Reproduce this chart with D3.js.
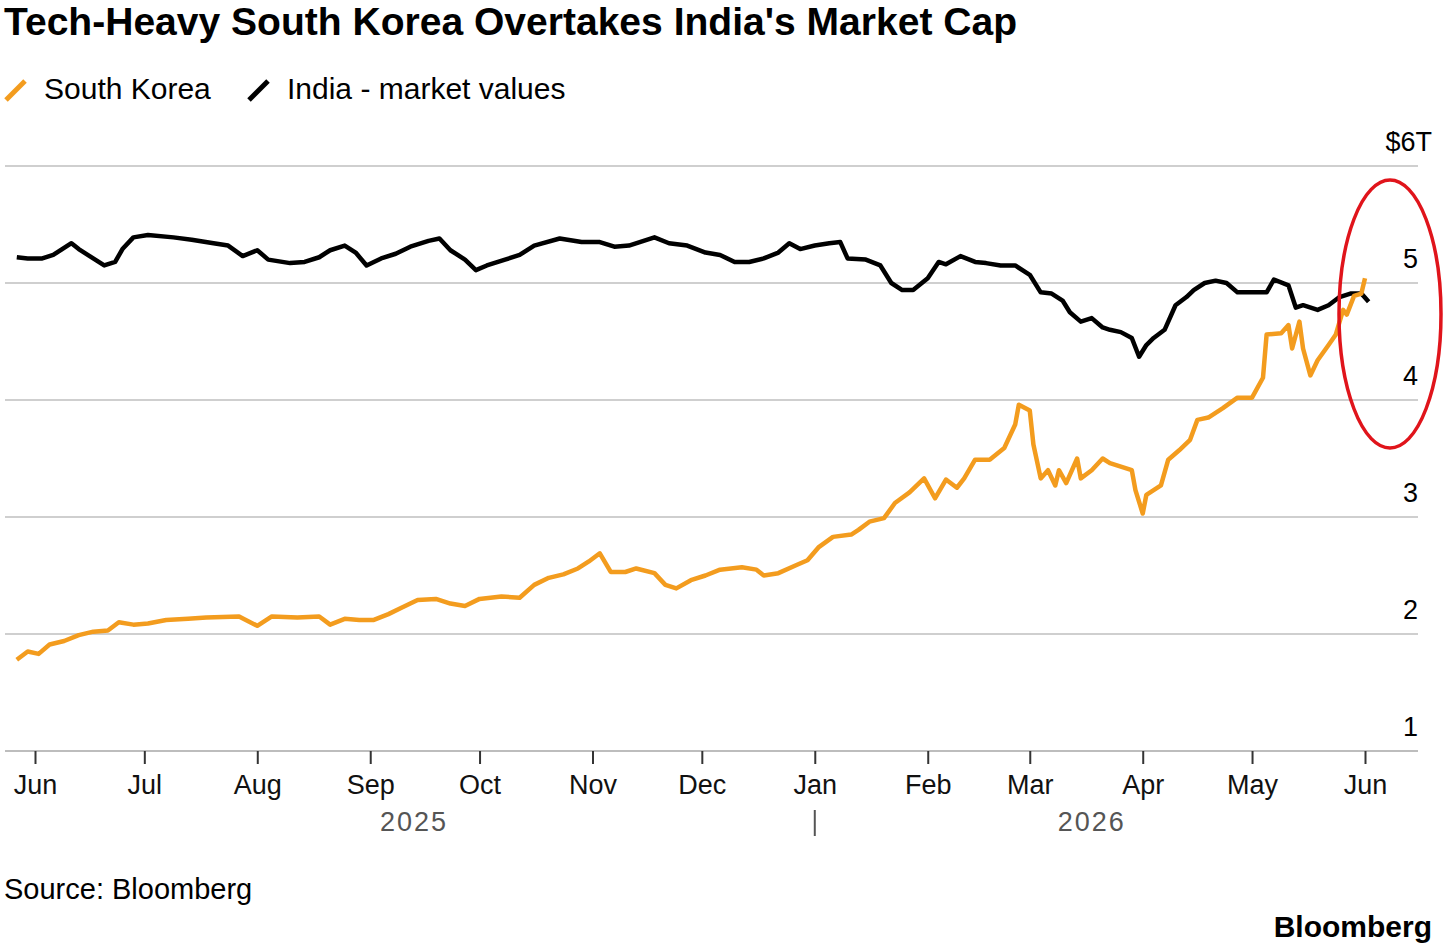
<!DOCTYPE html>
<html>
<head>
<meta charset="utf-8">
<script src="https://cdn.jsdelivr.net/npm/d3@7"></script>
<style>
body { margin: 0; background: #fff; }
text { font-family: "Liberation Sans", Arial, sans-serif; }
</style>
</head>
<body>
<div id="chart"></div>
<script>
// South Korea market cap, $T
var koreaDates = ["2025-05-27","2025-05-30","2025-06-02","2025-06-05","2025-06-09","2025-06-13","2025-06-17","2025-06-21","2025-06-24","2025-06-28",
	"2025-07-02","2025-07-07","2025-07-13","2025-07-18","2025-07-27","2025-08-01","2025-08-05","2025-08-12","2025-08-18","2025-08-21",
	"2025-08-25","2025-08-29","2025-09-02","2025-09-06","2025-09-10","2025-09-14","2025-09-19","2025-09-23","2025-09-27","2025-10-01",
	"2025-10-07","2025-10-12","2025-10-16","2025-10-20","2025-10-24","2025-10-28","2025-10-31","2025-11-03","2025-11-06","2025-11-10",
	"2025-11-13","2025-11-18","2025-11-21","2025-11-24","2025-11-28","2025-12-02","2025-12-06","2025-12-12","2025-12-16","2025-12-18",
	"2025-12-22","2025-12-27","2025-12-30","2026-01-02","2026-01-06","2026-01-11","2026-01-13","2026-01-16","2026-01-20","2026-01-23",
	"2026-01-27","2026-01-31","2026-02-03","2026-02-06","2026-02-09","2026-02-11","2026-02-14","2026-02-18","2026-02-22","2026-02-25",
	"2026-02-26","2026-03-01","2026-03-02","2026-03-04","2026-03-06","2026-03-08","2026-03-09","2026-03-11","2026-03-14","2026-03-15",
	"2026-03-18","2026-03-21","2026-03-23","2026-03-29","2026-03-30","2026-04-01","2026-04-02","2026-04-04","2026-04-06","2026-04-08",
	"2026-04-11","2026-04-14","2026-04-16","2026-04-19","2026-04-23","2026-04-27","2026-05-01","2026-05-04","2026-05-05","2026-05-09",
	"2026-05-11","2026-05-12","2026-05-14","2026-05-15","2026-05-17","2026-05-19","2026-05-22","2026-05-24","2026-05-26","2026-05-27",
	"2026-05-29","2026-05-31","2026-06-01"];
var koreaValues = [1.78,1.85,1.83,1.91,1.94,1.99,2.02,2.03,2.10,2.08,
	2.09,2.12,2.13,2.14,2.15,2.07,2.15,2.14,2.15,2.08,
	2.13,2.12,2.12,2.17,2.23,2.29,2.30,2.26,2.24,2.30,
	2.32,2.31,2.42,2.48,2.51,2.56,2.62,2.69,2.53,2.53,
	2.56,2.52,2.42,2.39,2.46,2.50,2.55,2.57,2.55,2.50,
	2.52,2.59,2.63,2.74,2.83,2.85,2.89,2.96,2.99,3.12,
	3.21,3.33,3.16,3.32,3.25,3.33,3.49,3.49,3.59,3.79,
	3.96,3.91,3.62,3.33,3.40,3.27,3.40,3.29,3.50,3.33,
	3.40,3.50,3.46,3.40,3.23,3.03,3.19,3.23,3.27,3.49,
	3.57,3.66,3.83,3.85,3.93,4.02,4.02,4.19,4.56,4.57,
	4.64,4.44,4.67,4.44,4.21,4.34,4.47,4.56,4.77,4.73,
	4.89,4.91,5.04];

// India market values, $T
var indiaDates = ["2025-05-27","2025-05-30","2025-06-03","2025-06-06","2025-06-11","2025-06-13","2025-06-16","2025-06-20","2025-06-23","2025-06-25",
	"2025-06-28","2025-07-02","2025-07-09","2025-07-14","2025-07-20","2025-07-24","2025-07-28","2025-08-01","2025-08-04","2025-08-10",
	"2025-08-14","2025-08-18","2025-08-21","2025-08-25","2025-08-28","2025-08-31","2025-09-04","2025-09-08","2025-09-12","2025-09-17",
	"2025-09-20","2025-09-23","2025-09-27","2025-09-30","2025-10-03","2025-10-08","2025-10-12","2025-10-16","2025-10-23","2025-10-29",
	"2025-11-03","2025-11-07","2025-11-11","2025-11-18","2025-11-22","2025-11-27","2025-12-02","2025-12-06","2025-12-10","2025-12-14",
	"2025-12-18","2025-12-22","2025-12-25","2025-12-28","2026-01-01","2026-01-05","2026-01-08","2026-01-10","2026-01-15","2026-01-19",
	"2026-01-22","2026-01-25","2026-01-28","2026-02-01","2026-02-04","2026-02-06","2026-02-10","2026-02-14","2026-02-17","2026-02-21",
	"2026-02-25","2026-03-01","2026-03-04","2026-03-07","2026-03-10","2026-03-12","2026-03-15","2026-03-18","2026-03-21","2026-03-23",
	"2026-03-26","2026-03-29","2026-03-31","2026-04-02","2026-04-04","2026-04-07","2026-04-10","2026-04-13","2026-04-15","2026-04-18",
	"2026-04-21","2026-04-24","2026-04-27","2026-05-01","2026-05-05","2026-05-07","2026-05-11","2026-05-13","2026-05-15","2026-05-19",
	"2026-05-22","2026-05-25","2026-05-28","2026-05-31","2026-06-02"];
var indiaValues = [5.22,5.21,5.21,5.24,5.34,5.29,5.23,5.15,5.18,5.29,
	5.39,5.41,5.39,5.37,5.34,5.32,5.23,5.28,5.20,5.17,
	5.18,5.22,5.28,5.32,5.26,5.15,5.21,5.25,5.31,5.36,
	5.38,5.28,5.20,5.11,5.15,5.20,5.24,5.32,5.38,5.35,
	5.35,5.31,5.32,5.39,5.34,5.32,5.26,5.24,5.18,5.18,
	5.21,5.26,5.34,5.29,5.32,5.34,5.35,5.21,5.20,5.15,
	5.00,4.94,4.94,5.04,5.18,5.16,5.23,5.18,5.17,5.15,
	5.15,5.07,4.92,4.91,4.85,4.75,4.67,4.70,4.62,4.60,
	4.58,4.53,4.37,4.47,4.53,4.60,4.81,4.88,4.94,5.00,
	5.02,5.00,4.92,4.92,4.92,5.03,4.98,4.79,4.81,4.77,
	4.81,4.88,4.91,4.91,4.84];

var yTicks = [1, 2, 3, 4, 5, 6];
var monthTicks = ["2025-06-01","2025-07-01","2025-08-01","2025-09-01","2025-10-01","2025-11-01","2025-12-01",
	"2026-01-01","2026-02-01","2026-03-01","2026-04-01","2026-05-01","2026-06-01"];
var yearLabels = [{text: "2025", date: "2025-09-13"}, {text: "2026", date: "2026-03-18"}];

var colors = {korea: "#f39c1e", india: "#000000", grid: "#cfcfcf"};

var parse = d3.timeParse("%Y-%m-%d");

var svg = d3.select("#chart").append("svg")
	.attr("width", 1456)
	.attr("height", 948);

var x = d3.scaleTime()
	.domain([parse("2025-06-01"), parse("2026-06-01")])
	.range([35, 1365]);

var y = d3.scaleLinear()
	.domain([1, 6])
	.range([751, 166]);

// title + legend
svg.append("text")
	.attr("x", 4).attr("y", 35)
	.attr("font-size", 38).attr("font-weight", "bold")
	.attr("textLength", 1013)
	.attr("lengthAdjust", "spacingAndGlyphs")
	.text("Tech-Heavy South Korea Overtakes India's Market Cap");

function legendItem(lx, color, label) {
	svg.append("line")
		.attr("x1", lx).attr("y1", 100).attr("x2", lx + 19).attr("y2", 81)
		.attr("stroke", color).attr("stroke-width", 5);
	svg.append("text")
		.attr("x", lx + 38).attr("y", 99)
		.attr("font-size", 30)
		.text(label);
}
legendItem(6, colors.korea, "South Korea");
legendItem(249, colors.india, "India - market values");

// gridlines
svg.append("g").selectAll("line")
	.data(yTicks)
	.join("line")
	.attr("x1", 5).attr("x2", 1418)
	.attr("y1", d => y(d)).attr("y2", d => y(d))
	.attr("stroke", d => d === 1 ? "#bdbdbd" : colors.grid)
	.attr("stroke-width", 2);

svg.append("g").selectAll("text")
	.data(yTicks)
	.join("text")
	.attr("x", d => d === 6 ? 1432 : 1418)
	.attr("y", d => y(d) - 15)
	.attr("text-anchor", "end")
	.attr("font-size", 27)
	.text(d => d === 6 ? "$6T" : d);

// x axis
var xAxis = d3.axisBottom(x)
	.tickValues(monthTicks.map(parse))
	.tickFormat(d3.timeFormat("%b"))
	.tickSize(13)
	.tickPadding(11);

var xg = svg.append("g")
	.attr("transform", "translate(0,751)")
	.call(xAxis);
xg.select(".domain").remove();
xg.selectAll(".tick line").attr("stroke", "#333").attr("stroke-width", 2);
xg.selectAll(".tick text")
	.attr("font-size", 27)
	.attr("fill", "#111")
	.attr("font-family", "Liberation Sans, Arial, sans-serif");

svg.append("g").selectAll("text")
	.data(yearLabels)
	.join("text")
	.attr("x", d => x(parse(d.date)))
	.attr("y", 831)
	.attr("text-anchor", "middle")
	.attr("font-size", 27)
	.attr("letter-spacing", 2)
	.attr("fill", "#555")
	.text(d => d.text);

svg.append("line")
	.attr("x1", x(parse("2026-01-01"))).attr("x2", x(parse("2026-01-01")))
	.attr("y1", 810).attr("y2", 836)
	.attr("stroke", "#555").attr("stroke-width", 2);

// lines
var line = d3.line()
	.x(d => x(d.date))
	.y(d => y(d.value));

function series(dates, values) {
	return dates.map((d, i) => ({date: parse(d), value: values[i]}));
}

svg.append("path")
	.datum(series(indiaDates, indiaValues))
	.attr("fill", "none")
	.attr("stroke", colors.india)
	.attr("stroke-width", 4.5)
	.attr("stroke-linejoin", "round")
	.attr("d", line);

svg.append("path")
	.datum(series(koreaDates, koreaValues))
	.attr("fill", "none")
	.attr("stroke", colors.korea)
	.attr("stroke-width", 4.5)
	.attr("stroke-linejoin", "round")
	.attr("d", line);

// red annotation ellipse
svg.append("ellipse")
	.attr("cx", 1390).attr("cy", 314)
	.attr("rx", 51).attr("ry", 134)
	.attr("fill", "none")
	.attr("stroke", "#e0141b")
	.attr("stroke-width", 3.5);

// footer
svg.append("text")
	.attr("x", 4).attr("y", 899)
	.attr("font-size", 29)
	.text("Source: Bloomberg");

svg.append("text")
	.attr("x", 1432).attr("y", 937)
	.attr("text-anchor", "end")
	.attr("font-size", 30).attr("font-weight", "bold")
	.text("Bloomberg");
</script>
</body>
</html>
